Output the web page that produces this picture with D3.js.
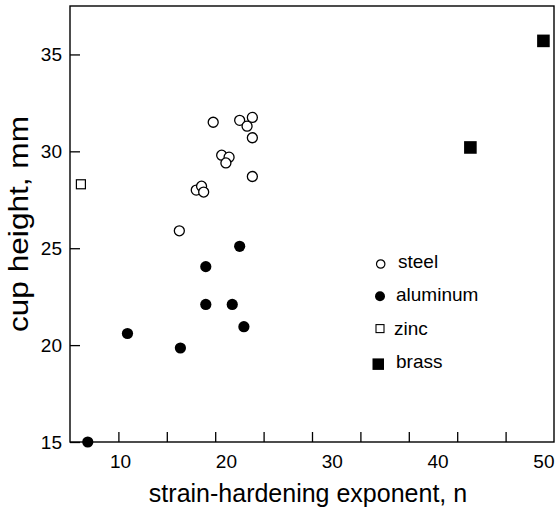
<!DOCTYPE html>
<html>
<head>
<meta charset="utf-8">
<script src="https://cdn.jsdelivr.net/npm/d3@7"></script>
<style>
    body { margin: 0; background: #fff; }
    svg { display: block; font-family: "Liberation Sans", Arial, sans-serif; }
    .frame { fill: none; stroke: #000; stroke-width: 1.4; }
    .axis path { display: none; }
    .axis line { stroke: #000; stroke-width: 1.3; }
    .axis text { font-size: 19px; fill: #000; }
    .title { font-size: 25px; fill: #000; }
    .title-y { font-size: 27px; }
    .legend text { font-size: 19px; fill: #000; }
</style>
</head>
<body>
<svg id="svg"></svg>
<script>
// strain-hardening exponent n vs cup height (mm)
const steelN = [18.8, 21.3, 22.5, 22.0, 22.5, 19.6, 20.3, 20.0, 22.5, 17.2, 17.7, 17.9, 15.6];
const steelH = [31.5, 31.6, 31.75, 31.3, 30.7, 29.8, 29.7, 29.4, 28.7, 28.0, 28.2, 27.9, 25.9];

const aluminumN = [6.95, 10.7, 15.7, 18.1, 20.6, 21.7, 21.3, 18.1];
const aluminumH = [15.0, 20.6, 19.85, 22.1, 22.1, 20.95, 25.1, 24.05];

const zincN = [6.3];
const zincH = [28.3];

const brassN = [43.1, 50.0];
const brassH = [30.2, 35.7];

const xTickLabels = [10, 20, 30, 40, 50];
const yTickLabels = [15, 20, 25, 30, 35];
const legendLabels = ['steel', 'aluminum', 'zinc', 'brass'];

const width = 556, height = 509;
const margin = {top: 6, left: 70, right: 2, bottom: 67};
const w = width - margin.left - margin.right;
const h = height - margin.top - margin.bottom;

const svg = d3.select('#svg')
    .attr('width', width)
    .attr('height', height);

const g = svg.append('g')
    .attr('transform', 'translate(' + margin.left + ',' + margin.top + ')');

const xScale = d3.scaleLinear().domain([5.27, 51.0]).range([0, w]);
const yScale = d3.scaleLinear().domain([15, 37.5]).range([h, 0]);

// x axis: labels at round values, tick marks split the frame in ten
const xLabelAxis = d3.axisBottom(xScale)
    .tickValues(xTickLabels)
    .tickSize(0)
    .tickPadding(13)
    .tickFormat(d3.format('d'));
g.append('g')
    .attr('class', 'axis axis-x')
    .attr('transform', 'translate(0,' + h + ')')
    .call(xLabelAxis)
    .selectAll('line').remove();

const xd = xScale.domain();
const xMarks = d3.range(1, 10).map(i => xd[0] + i * (xd[1] - xd[0]) / 10);
const xMarkAxis = d3.axisTop(xScale)
    .tickValues(xMarks)
    .tickSize(10)
    .tickFormat('');
g.append('g')
    .attr('class', 'axis axis-x-marks')
    .attr('transform', 'translate(0,' + h + ')')
    .call(xMarkAxis);

const yAxis = d3.axisLeft(yScale)
    .tickValues(yTickLabels)
    .tickSizeInner(-10)
    .tickSizeOuter(0)
    .tickPadding(8)
    .tickFormat(d3.format('d'));
g.append('g')
    .attr('class', 'axis axis-y')
    .call(yAxis);

g.append('rect')
    .attr('class', 'frame')
    .attr('width', w)
    .attr('height', h);

// points
const pts = (xs, ys) => xs.map((x, i) => ({x: x, y: ys[i]}));

g.append('g').selectAll('circle')
    .data(pts(steelN, steelH))
  .enter().append('circle')
    .attr('cx', d => xScale(d.x))
    .attr('cy', d => yScale(d.y))
    .attr('r', 5)
    .attr('fill', '#fff')
    .attr('stroke', '#000')
    .attr('stroke-width', 1.3);

g.append('g').selectAll('circle')
    .data(pts(aluminumN, aluminumH))
  .enter().append('circle')
    .attr('cx', d => xScale(d.x))
    .attr('cy', d => yScale(d.y))
    .attr('r', 5.6)
    .attr('fill', '#000');

g.append('g').selectAll('rect')
    .data(pts(zincN, zincH))
  .enter().append('rect')
    .attr('x', d => xScale(d.x) - 4.5)
    .attr('y', d => yScale(d.y) - 4.5)
    .attr('width', 9)
    .attr('height', 9)
    .attr('fill', '#fff')
    .attr('stroke', '#000')
    .attr('stroke-width', 1.2);

g.append('g').selectAll('rect')
    .data(pts(brassN, brassH))
  .enter().append('rect')
    .attr('x', d => xScale(d.x) - 6.3)
    .attr('y', d => yScale(d.y) - 6.3)
    .attr('width', 12.6)
    .attr('height', 12.6)
    .attr('fill', '#000');

// legend
const legend = g.append('g')
    .attr('class', 'legend')
    .attr('transform', 'translate(310,262)');

const row = 33.3;
legendLabels.forEach((label, i) => {
    const item = legend.append('g').attr('transform', 'translate(0,' + (i * row) + ')');
    if (label === 'steel') {
        item.append('circle').attr('cx', 0.7).attr('cy', -4).attr('r', 4.2)
            .attr('fill', '#fff').attr('stroke', '#000').attr('stroke-width', 1.2);
    } else if (label === 'aluminum') {
        item.append('circle').attr('cx', 0).attr('cy', -5).attr('r', 5).attr('fill', '#000');
    } else if (label === 'zinc') {
        item.append('rect').attr('x', -4).attr('y', -10).attr('width', 8).attr('height', 8)
            .attr('fill', '#fff').attr('stroke', '#000').attr('stroke-width', 1.1);
    } else {
        item.append('rect').attr('x', -7.5).attr('y', -9.5).attr('width', 11.5).attr('height', 11.5)
            .attr('fill', '#000');
    }
    item.append('text')
        .attr('x', i === 0 ? 18 : (i === 2 ? 14 : 16))
        .attr('y', 0)
        .text(label);
});

// axis titles
svg.append('text')
    .attr('class', 'title')
    .attr('x', margin.left + w / 2 - 4)
    .attr('y', 502)
    .attr('text-anchor', 'middle')
    .text('strain-hardening exponent, n');

// y title is drawn stretched along its length, as in the original
svg.append('text')
    .attr('class', 'title title-y')
    .attr('transform', 'translate(28,' + (margin.top + h / 2) + ') rotate(-90)')
    .attr('text-anchor', 'middle')
    .attr('textLength', 216)
    .attr('lengthAdjust', 'spacingAndGlyphs')
    .text('cup height, mm');
</script>
</body>
</html>
